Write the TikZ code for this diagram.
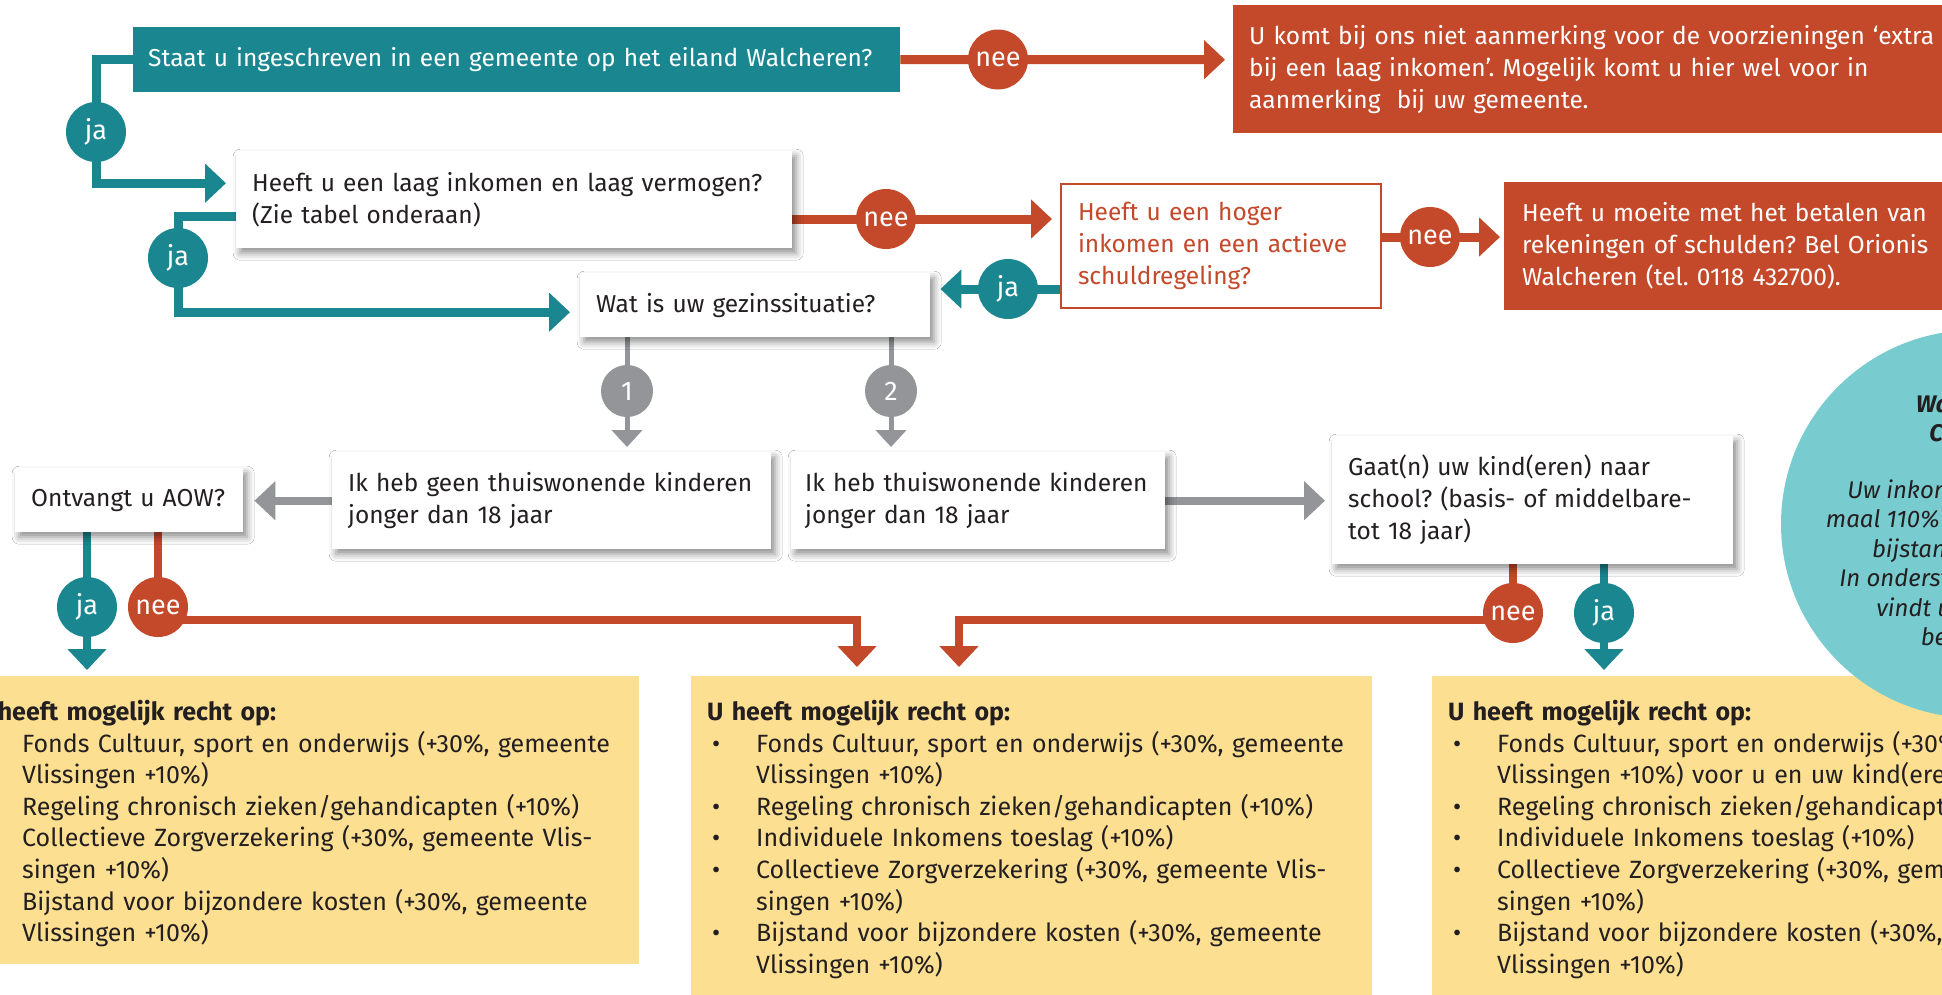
\documentclass[tikz,border=0pt]{standalone}
\usepackage{fontspec}
\setmainfont{Fira Sans}
\usetikzlibrary{arrows.meta,shadows.blur,calc}
\pgfdeclarelayer{bg}
\pgfsetlayers{bg,main}
\definecolor{tealA}{HTML}{1A8690}
\definecolor{redA}{HTML}{C4492A}
\definecolor{grayA}{HTML}{939598}
\definecolor{yel}{HTML}{FDDF91}
\definecolor{lteal}{HTML}{78CCCF}
\definecolor{ink}{HTML}{231F20}
\frenchspacing
\hbadness=10000 \hfuzz=500pt
\newcommand{\fs}{\fontsize{24.5}{32}\selectfont}
\newcommand{\fy}{\fontsize{25}{31.6}\selectfont}
\newcommand{\bi}{\hspace*{5pt}\makebox[44pt][l]{\textbullet}}
\newcommand{\ci}{\hspace*{49pt}}
\newcommand{\lin}[1]{\mbox{#1}}
\begin{document}
\begin{tikzpicture}[x=1pt,y=-1pt,
 box/.style={anchor=north west, inner ysep=0pt, align=left, font=\fs, text=ink},
 wbox/.style={box, fill=white, blur shadow={shadow xshift=4pt, shadow yshift=-5pt, shadow blur radius=7pt, shadow opacity=45}},
 tbox/.style={box, fill=tealA, text=white},
 rbox/.style={box, fill=redA, text=white},
 obox/.style={box, fill=white, draw=redA, line width=2pt, text=redA},
 ybox/.style={anchor=north west, fill=yel, inner sep=0pt},
 ytext/.style={anchor=north west, inner sep=0pt, align=left, font=\fy, text=ink, text width=640pt},
 dot/.style={circle, inner sep=0pt, minimum size=60pt, text=white, font=\fontsize{27}{27}\selectfont},
 jadot/.style={dot, fill=tealA},
 needot/.style={dot, fill=redA},
 grdot/.style={dot, fill=grayA, minimum size=52pt},
 tealln/.style={draw=tealA, line width=9pt},
 tealmid/.style={draw=tealA, line width=8pt},
 redln/.style={draw=redA, line width=9pt},
 redmid/.style={draw=redA, line width=7.5pt},
 grayln/.style={draw=grayA, line width=5pt},
 graythick/.style={draw=grayA, line width=8pt},
 bigarrow/.style={-{Triangle[width=38pt,length=21pt]}},
 smallarrow/.style={-{Triangle[width=30pt,length=17pt]}}
]
\useasboundingbox (0,0) rectangle (1942,994);
\clip (0,0) rectangle (1942,994);

% boxes
\node[tbox, text width=737pt, inner xsep=15pt, minimum height=65pt] (q1) at (133,27) {\lin{Staat u ingeschreven in een gemeente op het eiland Walcheren?}};
\node[rbox, text width=768pt, inner xsep=16pt, minimum height=128pt] (r1) at (1233,5) {\lin{U komt bij ons niet aanmerking voor de voorzieningen ‘extra}\\\lin{bij een laag inkomen’. Mogelijk komt u hier wel voor in}\\\lin{aanmerking\ \ bij uw gemeente.}};
\node[wbox, text width=524pt, inner xsep=16pt, minimum height=97pt] (q2) at (236,151) {\lin{Heeft u een laag inkomen en laag vermogen?}\\\lin{(Zie tabel onderaan)}};
\node[obox, text width=286pt, inner xsep=17pt, minimum height=124pt] (q3) at (1060,183) {\lin{Heeft u een hoger}\\\lin{inkomen en een actieve}\\\lin{schuldregeling?}};
\node[rbox, text width=564pt, inner xsep=18pt, minimum height=128pt] (r2) at (1504,182) {\lin{Heeft u moeite met het betalen van}\\\lin{rekeningen of schulden? Bel Orionis}\\\lin{Walcheren (tel. 0118 432700).}};
\node[wbox, text width=318pt, inner xsep=16pt, minimum height=64pt] (q4) at (580,273) {\lin{Wat is uw gezinssituatie?}};
\node[wbox, text width=407pt, inner xsep=16pt, minimum height=97pt] (b1) at (332,452) {\lin{Ik heb geen thuiswonende kinderen}\\\lin{jonger dan 18 jaar}};
\node[wbox, text width=346pt, inner xsep=14pt, minimum height=97pt] (b2) at (791,452) {\lin{Ik heb thuiswonende kinderen}\\\lin{jonger dan 18 jaar}};
\node[wbox, text width=196pt, inner xsep=16pt, minimum height=64pt] (aow) at (15,468) {\lin{Ontvangt u AOW?}};
\node[wbox, text width=369pt, inner xsep=16pt, minimum height=128pt] (gaat) at (1332,436) {\lin{Gaat(n) uw kind(eren) naar}\\\lin{school? (basis- of middelbare-}\\\lin{tot 18 jaar)}};

% yellow result boxes
\node[ybox, minimum width=682pt, minimum height=288pt] (Y1) at (-43,676) {};
\node[ybox, minimum width=681pt, minimum height=330pt] (Y2) at (691,676) {};
\node[ybox, minimum width=681pt, minimum height=330pt] (Y3) at (1432,676) {};
\node[ytext] (Y1t) at (-27,700) {\textbf{U heeft mogelijk recht op:}\\
\bi Fonds Cultuur, sport en onderwijs (+30\%, gemeente\\
\ci Vlissingen +10\%)\\
\bi Regeling chronisch zieken/gehandicapten (+10\%)\\
\bi Collectieve Zorgverzekering (+30\%, gemeente Vlis-\\
\ci singen +10\%)\\
\bi Bijstand voor bijzondere kosten (+30\%, gemeente\\
\ci Vlissingen +10\%)};
\node[ytext] (Y2t) at (707,700) {\textbf{U heeft mogelijk recht op:}\\
\bi Fonds Cultuur, sport en onderwijs (+30\%, gemeente\\
\ci Vlissingen +10\%)\\
\bi Regeling chronisch zieken/gehandicapten (+10\%)\\
\bi Individuele Inkomens toeslag (+10\%)\\
\bi Collectieve Zorgverzekering (+30\%, gemeente Vlis-\\
\ci singen +10\%)\\
\bi Bijstand voor bijzondere kosten (+30\%, gemeente\\
\ci Vlissingen +10\%)};
\node[ytext] (Y3t) at (1448,700) {\textbf{U heeft mogelijk recht op:}\\
\bi Fonds Cultuur, sport en onderwijs (+30\%, gemeente\\
\ci Vlissingen +10\%) voor u en uw kind(eren)\\
\bi Regeling chronisch zieken/gehandicapten (+10\%)\\
\bi Individuele Inkomens toeslag (+10\%)\\
\bi Collectieve Zorgverzekering (+30\%, gemeente Vlis-\\
\ci singen +10\%)\\
\bi Bijstand voor bijzondere kosten (+30\%, gemeente\\
\ci Vlissingen +10\%)};

% info circle
\node[circle, fill=lteal, minimum size=388pt, inner sep=0pt] (info) at (1975,524) {};
\node[align=center, text=ink, font=\fontsize{24}{29.5}\selectfont\itshape, inner sep=0pt] (infot) at (1975,522) {{\bfseries Wat zijn de}\\{\bfseries Criteria?}\\[27pt]Uw inkomen mag maxi-\\maal 110\% van de geldende\\bijstandsnorm zijn.\\In onderstaande tabellen\\vindt u de normen\\bedragen.};

% circles
\node[jadot] (ja1) at (96,132) {ja};
\node[needot] (nee1) at (998,59.5) {nee};
\node[needot] (nee2) at (886,219) {nee};
\node[needot] (nee3) at (1430,237) {nee};
\node[jadot] (ja3) at (1008,289) {ja};
\node[jadot] (ja2) at (178,258) {ja};
\node[grdot] (g1) at (627,391) {1};
\node[grdot] (g2) at (891,391) {2};
\node[jadot] (ja4) at (87,607) {ja};
\node[needot] (nee4) at (158,607) {nee};
\node[needot] (nee5) at (1513,613) {nee};
\node[jadot] (ja5) at (1604,613) {ja};
\coordinate (t1) at (857,676);
\coordinate (t2) at (959,676);

% connectors
\begin{pgfonlayer}{bg}
\fill[white] (0,0) rectangle (1942,994);
\draw[tealln, bigarrow, shorten >=10pt] (q1.west) -| (ja1.center) |- ([yshift=16.5pt]q2.west);
\draw[redln, bigarrow, shorten >=8pt] (q1.east) -- (nee1.center) -- (q1.east -| r1.west);
\draw[redln, bigarrow, shorten >=8pt] (nee2 -| q2.east) -- (nee2.center) -- (nee2 -| q3.west);
\draw[redln, bigarrow, shorten >=4pt] (nee3 -| q3.east) -- (nee3.center) -- (nee3 -| r2.west);
\draw[tealln, bigarrow, shorten >=10pt] (ja3 -| q3.west) -- (ja3.center) -- (ja3 -| q4.east);
\draw[tealln, bigarrow, shorten >=10pt] ([yshift=-16.5pt]q2.west) -| (ja2.center) |- ([yshift=-7pt]q4.west);
\draw[grayln, smallarrow, shorten >=5pt] (g1 |- q4.south) -- (g1.center) -- (g1 |- b1.north);
\draw[grayln, smallarrow, shorten >=5pt] (g2 |- q4.south) -- (g2.center) -- (g2 |- b2.north);
\draw[graythick, bigarrow, shorten >=11pt] (b1.west) -- (b1.west -| aow.east);
\draw[graythick, bigarrow, shorten >=7pt] (b2.east) -- (b2.east -| gaat.west);
\draw[tealmid, bigarrow, shorten >=6pt] (ja4 |- aow.south) -- (ja4.center) -- (ja4 |- Y1.north);
\draw[redmid] (nee4 |- aow.south) -- (nee4.center);
\draw[redmid, bigarrow, shorten >=9pt] ([yshift=-13pt]nee4.center) -| (t1);
\draw[redmid] (nee5 |- gaat.south) -- (nee5.center);
\draw[redmid, bigarrow, shorten >=9pt] ([yshift=-7pt]nee5.center) -| (t2);
\draw[tealmid, bigarrow, shorten >=6pt] (ja5 |- gaat.south) -- (ja5.center) -- (ja5 |- Y3.north);
\end{pgfonlayer}
\end{tikzpicture}
\end{document}
